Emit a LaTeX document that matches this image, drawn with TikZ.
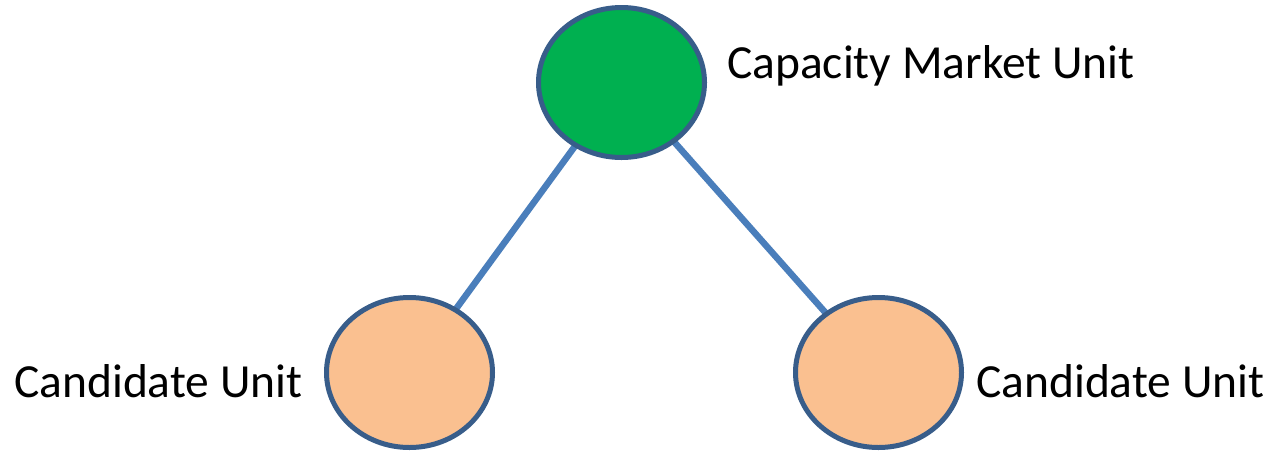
\documentclass[tikz,border=0pt]{standalone}
\usepackage{fontspec}
\setmainfont{Carlito}
\usetikzlibrary{shapes.geometric,backgrounds}
\definecolor{cmugreen}{HTML}{00B050}
\definecolor{candorange}{HTML}{FAC090}
\definecolor{rimblue}{HTML}{385D8A}
\definecolor{linkblue}{HTML}{4A7EBB}
\tikzset{
  unit/.style={ellipse, draw=rimblue, line width=5pt, minimum width=166pt, minimum height=150pt, inner sep=0pt},
  cmu/.style={unit, fill=cmugreen},
  cand/.style={unit, fill=candorange},
  label/.style={inner sep=0pt, anchor=base west, font=\fontsize{47.5}{57}\selectfont},
  link/.style={draw=linkblue, line width=6.5pt}
}
\begin{document}
\begin{tikzpicture}[x=1pt,y=-1pt]
\useasboundingbox (0,0) rectangle (1270,451);
\node[cmu] (top) at (621.5,82.5) {};
\node[cand] (left) at (409.5,372.5) {};
\node[cand] (right) at (878.5,372.5) {};
\node[label] (ltop) at (727,78.3) {Capacity Market Unit};
\node[label] (lleft) at (14,397.3) {Candidate Unit};
\node[label] (lright) at (976,397.3) {Candidate Unit};
\begin{scope}[on background layer]
\draw[link] (top.center) -- (left.center);
\draw[link] (top.center) -- (right.center);
\end{scope}
\end{tikzpicture}
\end{document}
